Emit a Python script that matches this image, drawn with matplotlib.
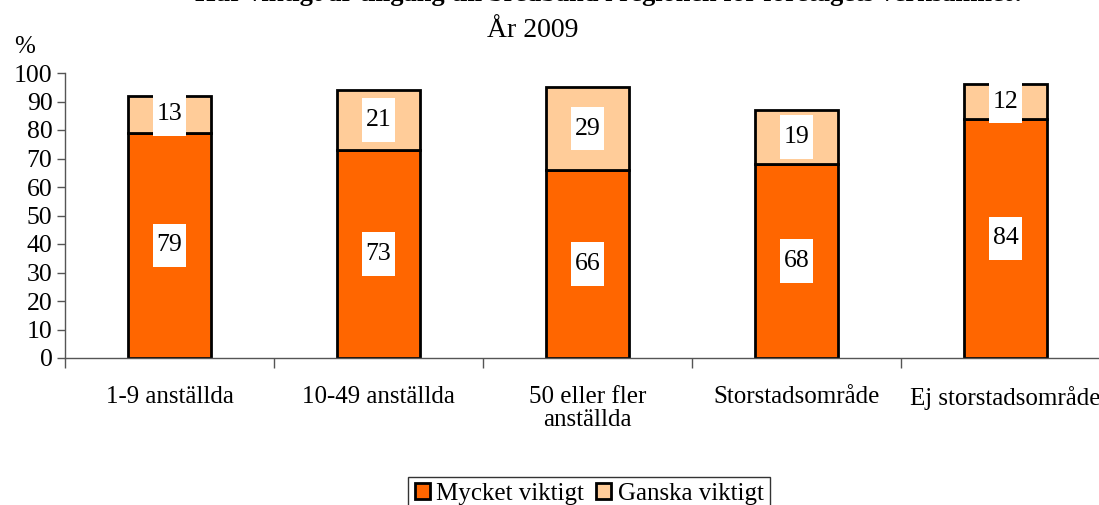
import matplotlib
matplotlib.use("Agg")
import matplotlib.pyplot as plt
from matplotlib.path import Path
import numpy as np

plt.rcParams['font.family'] = ['Liberation Serif', 'DejaVu Serif']

kategorier = ["1-9 anställda", "10-49 anställda", "50 eller fler\nanställda",
              "Storstadsområde", "Ej storstadsområde"]
mycket = [79, 73, 66, 68, 84]
ganska = [13, 21, 29, 19, 12]
serier = ["Mycket viktigt", "Ganska viktigt"]

W, H = 1099, 505
fig = plt.figure(figsize=(W / 100, H / 100), dpi=100)
# plot area runs past the right edge, as in the original
ax = fig.add_axes([65 / W, (H - 358) / H, (1110 - 65) / W, (358 - 73) / H])

x = np.arange(len(kategorier))
b1 = ax.bar(x, mycket, width=0.4, color="#FF6600", edgecolor="black", linewidth=2,
            label=serier[0], zorder=2)
b2 = ax.bar(x, ganska, width=0.4, bottom=mycket, color="#FFCC99", edgecolor="black",
            linewidth=2, label=serier[1], zorder=2)


# label box: narrow at the sides, tall above and below
def hogbox(x0, y0, width, height, mutation_size):
    px = 0.14 * mutation_size
    py = 0.42 * mutation_size
    x0, y0 = x0 - px, y0 - py
    x1, y1 = x0 + width + 2 * px, y0 + height + 2 * py
    return Path([(x0, y0), (x1, y0), (x1, y1), (x0, y1), (x0, y0)], closed=True)


box = dict(boxstyle=hogbox, facecolor="white", edgecolor="none")
for i in range(len(x)):
    ax.text(x[i], mycket[i] / 2, str(mycket[i]), ha="center", va="center",
            fontsize=18.5, bbox=box, zorder=3)
    ax.text(x[i], mycket[i] + ganska[i] / 2, str(ganska[i]), ha="center", va="center",
            fontsize=18.5, bbox=box, zorder=3)

ax.set_xlim(-0.5, len(kategorier) - 0.5)
ax.set_ylim(0, 100)
ax.set_yticks(range(0, 101, 10))
ax.tick_params(axis="y", labelsize=18.5, length=6, width=1, color="#555555", pad=3)

# category ticks sit between the groups
ax.set_xticks(np.arange(-0.5, len(kategorier), 1.0), minor=False)
ax.set_xticklabels([])
ax.set_xticks(x, minor=True)
ax.set_xticklabels(kategorier, minor=True, fontsize=18, linespacing=1.05)
ax.tick_params(axis="x", which="major", length=7, width=1, color="#555555")
ax.tick_params(axis="x", which="minor", length=0, pad=20)

for s in ["top", "right"]:
    ax.spines[s].set_visible(False)
for s in ["left", "bottom"]:
    ax.spines[s].set_color("#555555")
    ax.spines[s].set_linewidth(1)

fig.text(25 / W, 1 - 47 / H, "%", ha="center", va="center", fontsize=18)
fig.text(610 / W, 1 - 0.5 / H, "Hur viktigt är tillgång till bredband i regionen för företagets verksamhet?",
         ha="center", va="baseline", fontsize=19, fontweight="bold")
fig.text(533 / W, 1 - 37 / H, "År 2009", ha="center", va="baseline", fontsize=20)

leg = fig.legend(handles=[b1, b2], labels=serier, loc="center", ncol=2,
                 bbox_to_anchor=(589 / W, 1 - 494 / H), fontsize=18, frameon=True,
                 fancybox=False, edgecolor="black", handlelength=0.6, handleheight=0.6,
                 handletextpad=0.25, columnspacing=0.5, borderpad=0.25, borderaxespad=0)
leg.get_frame().set_linewidth(1)

fig.savefig("out.png", dpi=100)
